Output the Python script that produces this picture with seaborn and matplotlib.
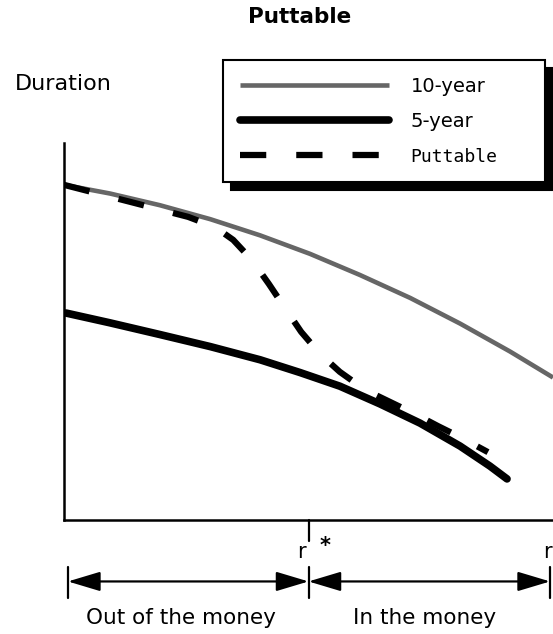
import numpy as np
import pandas as pd
import matplotlib
matplotlib.use("Agg")
import matplotlib.pyplot as plt
import matplotlib.transforms as mtransforms
import seaborn as sns

# values (x: yield level, y: duration, arbitrary units)
ten_x = [0.0, 0.94, 1.96, 2.99, 4.01, 5.03, 6.05, 7.08, 8.10, 9.12, 10.0]
ten_y = [8.89, 8.66, 8.35, 7.98, 7.55, 7.06, 6.50, 5.89, 5.21, 4.47, 3.78]

five_x = [0.04, 0.94, 1.96, 2.99, 4.01, 4.83, 5.64, 6.46, 7.28, 8.10, 8.71, 9.06]
five_y = [5.49, 5.23, 4.92, 4.60, 4.25, 3.91, 3.55, 3.08, 2.57, 1.96, 1.43, 1.09]

put_x = [0.0, 1.35, 2.54, 3.09, 3.46, 3.84, 4.19, 4.52, 4.85, 5.24, 5.64,
         6.16, 6.67, 7.18, 7.65, 8.10, 8.67]
put_y = [8.89, 8.44, 8.04, 7.77, 7.43, 6.90, 6.26, 5.62, 4.99, 4.40, 3.93,
         3.45, 3.13, 2.81, 2.49, 2.20, 1.80]

r_star = 5.0
r_left = 0.08
r_right = 9.94

sns.set_style("white")
plt.rcParams['font.family'] = ['DejaVu Sans']
plt.rcParams['text.color'] = 'black'

fig = plt.figure(figsize=(5.53, 6.34), dpi=100)
ax = fig.add_axes([64/553, 114/634, (553-64)/553, (520-143)/634])

sns.lineplot(x=ten_x, y=ten_y, ax=ax, color='#666666', lw=3.3,
             label='10-year', solid_capstyle='butt')
sns.lineplot(x=five_x, y=five_y, ax=ax, color='black', lw=5.5,
             label='5-year', solid_capstyle='round')
sns.lineplot(x=put_x, y=put_y, ax=ax, color='black', lw=4.5,
             label='Puttable', linestyle=(0, (4.2, 4.8)), dash_capstyle='butt')

ax.set_xlim(0, 10)
ax.set_ylim(0, 10)
ax.set_xticks([])
ax.set_yticks([])
ax.set_xlabel('')
ax.set_ylabel('')
for s in ['top', 'right']:
    ax.spines[s].set_visible(False)
for s in ['left', 'bottom']:
    ax.spines[s].set_linewidth(1.8)
    ax.spines[s].set_color('black')

# legend box with solid black shadow
leg = ax.legend(loc='upper left', bbox_to_anchor=(223/553, 1-182/634, 322/553, 122/634),
                bbox_transform=fig.transFigure, mode='expand', frameon=True, borderaxespad=0,
                fancybox=False, framealpha=1, edgecolor='black', fontsize=14,
                handlelength=7.7, handletextpad=1.1, borderpad=0.85, labelspacing=0.85,
                shadow={'ox': 6, 'oy': -6, 'color': 'black', 'alpha': 1})
leg.get_frame().set_linewidth(1.5)
leg.get_texts()[2].set_family('DejaVu Sans Mono')
leg.get_texts()[2].set_fontsize(13)

# below-axis annotations: x in data, y in axes fraction
trans = mtransforms.blended_transform_factory(ax.transData, ax.transAxes)
ax.plot([r_star, r_star], [0, -0.055], transform=trans, color='black', lw=1.6, clip_on=False)
for xb in [r_left, r_star, r_right]:
    ax.plot([xb, xb], [-0.125, -0.207], transform=trans, color='black', lw=1.6, clip_on=False)

arrow_y = -0.163
for x0, x1 in [(r_left, r_star), (r_star, r_right)]:
    ax.annotate('', xy=(x1, arrow_y), xytext=(x0, arrow_y), xycoords=trans, textcoords=trans,
                arrowprops=dict(arrowstyle='<|-|>,head_length=1.0,head_width=0.3',
                                mutation_scale=20, color='black', lw=1.6,
                                shrinkA=0, shrinkB=0), annotation_clip=False)

ax.text(r_star - 0.14, -0.085, 'r', transform=trans, fontsize=15, ha='center', va='center')
ax.text(r_star + 0.33, -0.068, '*', transform=trans, fontsize=15, ha='center', va='center', fontweight='bold')
ax.text(r_right - 0.05, -0.085, 'r', transform=trans, fontsize=15, ha='center', va='center')

ax.text((r_left + r_star) / 2 - 0.15, -0.26, 'Out of the money', transform=trans,
        fontsize=15.5, ha='center', va='center')
ax.text((r_star + r_right) / 2 - 0.1, -0.26, 'In the money', transform=trans,
        fontsize=15.5, ha='center', va='center')

fig.text(300/553, 1-17/634, 'Puttable', fontsize=15.5, fontweight='bold', ha='center', va='center')
fig.text(15/553, 1-84/634, 'Duration', fontsize=16, ha='left', va='center')

fig.savefig('out.png', dpi=100)
